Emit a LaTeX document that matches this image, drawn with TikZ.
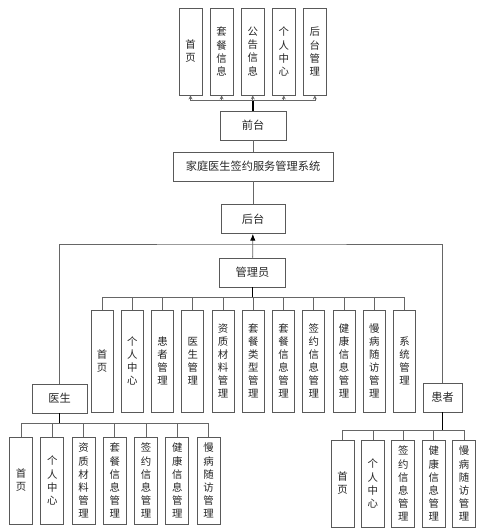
\documentclass[tikz,border=0pt]{standalone}
\usepackage{fontspec}
\setmainfont{Noto Sans CJK SC}
\usetikzlibrary{arrows.meta}

\begin{document}
\begin{tikzpicture}[x=0.75pt, y=-0.75pt, line width=0.6pt,
  box/.style={draw=black!65, fill=white, minimum width=49.5pt, minimum height=21.75pt,
    inner sep=0pt, text=black!85, font=\fontsize{8.4}{11}\selectfont},
  leaf/.style={draw=black!65, fill=white, minimum width=17.25pt, minimum height=65.25pt,
    inner sep=0pt, align=center, text=black!85, font=\fontsize{7.8}{9.8}\selectfont},
  link/.style={draw=black!60},
  trunk/.style={draw=black, line width=0.9pt}]
  \useasboundingbox (0,0) rectangle (499,532);

  % main chain
  \node[box]                         (front) at (253,125.5) {前台};
  \node[box, minimum width=120pt]    (sys)   at (253,166.5) {家庭医生签约服务管理系统};
  \node[box, minimum width=48pt]     (back)  at (253,219)   {后台};
  \node[box]                         (admin) at (252.5,272.5) {管理员};
  \node[box, minimum width=41.25pt]  (doc)   at (59.5,398.5) {医生};
  \node[box, minimum width=29.25pt]  (pat)   at (442.5,397.5) {患者};

  % front pages
  \foreach \t [count=\i] in {{首\\页},{套\\餐\\信\\息},{公\\告\\信\\息},{个\\人\\中\\心},{后\\台\\管\\理}}
    \node[leaf] (f\i) at (190.5+31.1*\i-31.1,51.5) {\t};

  % admin pages
  \foreach \t [count=\i] in {{首\\页},{个\\人\\中\\心},{患\\者\\管\\理},{医\\生\\管\\理},
      {资\\质\\材\\料\\管\\理},{套\\餐\\类\\型\\管\\理},{套\\餐\\信\\息\\管\\理},
      {签\\约\\信\\息\\管\\理},{健\\康\\信\\息\\管\\理},{慢\\病\\随\\访\\管\\理},{系\\统\\管\\理}}
    \node[leaf, minimum width=16.5pt, minimum height=76.5pt] (a\i) at (102+30.25*\i-30.25,361) {\t};

  % doctor pages
  \foreach \t [count=\i] in {{首\\页},{个\\人\\中\\心},{资\\质\\材\\料\\管\\理},{套\\餐\\信\\息\\管\\理},
      {签\\约\\信\\息\\管\\理},{健\\康\\信\\息\\管\\理},{慢\\病\\随\\访\\管\\理}}
    \node[leaf] (d\i) at (21+31.25*\i-31.25,480.5) {\t};

  % patient pages
  \foreach \t [count=\i] in {{首\\页},{个\\人\\中\\心},{签\\约\\信\\息\\管\\理},
      {健\\康\\信\\息\\管\\理},{慢\\病\\随\\访\\管\\理}}
    \node[leaf] (p\i) at (342.5+30.4*\i-30.4,483.5) {\t};

  \coordinate (fbus) at (253,100);
  \coordinate (join) at (252.5,244);
  \coordinate (abus) at (252.5,297);
  \coordinate (dbus) at (59.5,423);
  \coordinate (pbus) at (442.5,430);

  \draw[link] (front) -- (sys);
  \draw[link] (sys) -- (back);
  \draw[link, -{Latex[black, length=5pt, width=4pt]}] (admin) -- (back);
  \draw[link] (doc.north) |- (join) -| (pat.north);

  \draw[trunk] (front.north) -- (fbus);
  \foreach \i in {1,...,5}
    \draw[link, -{Stealth[open, length=3pt, width=3pt]}] (fbus) -| (f\i.south);

  \draw[trunk] (admin.south) -- (abus);
  \foreach \i in {1,...,11}
    \draw[link] (abus) -| (a\i.north);

  \draw[trunk] (doc.south) -- (dbus);
  \foreach \i in {1,...,7}
    \draw[link] (dbus) -| (d\i.north);

  \draw[trunk] (pat.south) -- (pbus);
  \foreach \i in {1,...,5}
    \draw[link] (pbus) -| (p\i.north);
\end{tikzpicture}
\end{document}
